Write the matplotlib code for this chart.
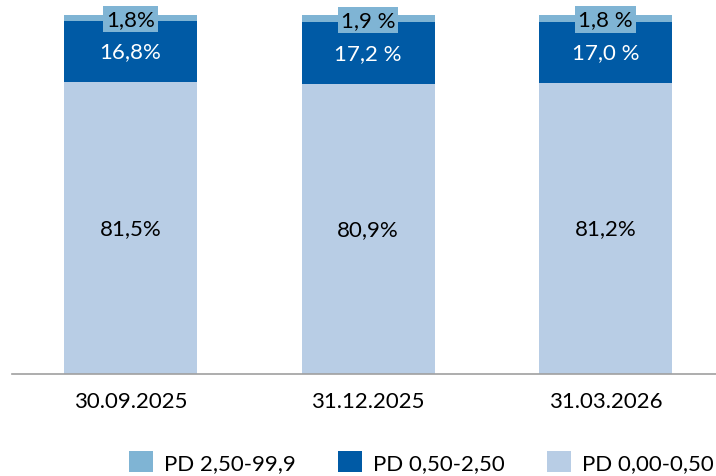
import matplotlib.pyplot as plt
import numpy as np

plt.rcParams['font.family'] = ['Lato', 'DejaVu Sans']

dates = ["30.09.2025", "31.12.2025", "31.03.2026"]
pd_low = [81.5, 80.9, 81.2]
pd_mid = [16.8, 17.2, 17.0]
pd_high = [1.8, 1.9, 1.8]
low_labels = ["81,5%", "80,9%", "81,2%"]
mid_labels = ["16,8%", "17,2 %", "17,0 %"]
high_labels = ["1,8%", "1,9 %", "1,8 %"]

c_low = "#b8cde5"
c_mid = "#005aa5"
c_high = "#7fb4d4"
fs = 16

fig = plt.figure(figsize=(7.16, 4.77), dpi=100)
ax = fig.add_axes([12 / 716, 102 / 477, 1 - 12 / 716, 375 / 477])

x = np.arange(len(dates))
w = 0.56
low = np.array(pd_low)
mid = np.array(pd_mid)
high = np.array(pd_high)

ax.bar(x, low, w, color=c_low, label="PD 0,00-0,50")
ax.bar(x, mid, w, bottom=low, color=c_mid, label="PD 0,50-2,50")
ax.bar(x, high, w, bottom=low + mid, color=c_high, label="PD 2,50-99,9")

for i in range(len(x)):
    ax.text(x[i], low[i] / 2, low_labels[i], ha="center", va="center",
            fontsize=fs, color="black")
    ax.text(x[i], low[i] + mid[i] / 2, mid_labels[i], ha="center", va="center",
            fontsize=fs, color="white")
    ax.text(x[i], low[i] + mid[i] + high[i] / 2 - 0.3, high_labels[i],
            ha="center", va="center", fontsize=fs, color="black",
            bbox=dict(boxstyle="square,pad=0.14", fc=c_high, ec="none"))

ax.set_xlim(-0.499, 2.465)
ax.set_ylim(0, 104.5)
ax.set_xticks(x)
ax.set_xticklabels(dates, fontsize=fs)
ax.tick_params(axis="x", length=0, pad=12)
ax.set_yticks([])
for s in ["top", "right", "left"]:
    ax.spines[s].set_visible(False)
ax.spines["bottom"].set_color("#a0a0a0")
ax.spines["bottom"].set_linewidth(1.2)

handles, labels = ax.get_legend_handles_labels()
fig.legend(handles[::-1], labels[::-1], loc="lower right",
           bbox_to_anchor=(714 / 716, 3 / 477), ncol=3, frameon=False,
           fontsize=fs, handlelength=1.08, handleheight=1.1,
           handletextpad=0.5, columnspacing=1.9,
           borderpad=0, borderaxespad=0)

fig.savefig("out.png", dpi=100)
